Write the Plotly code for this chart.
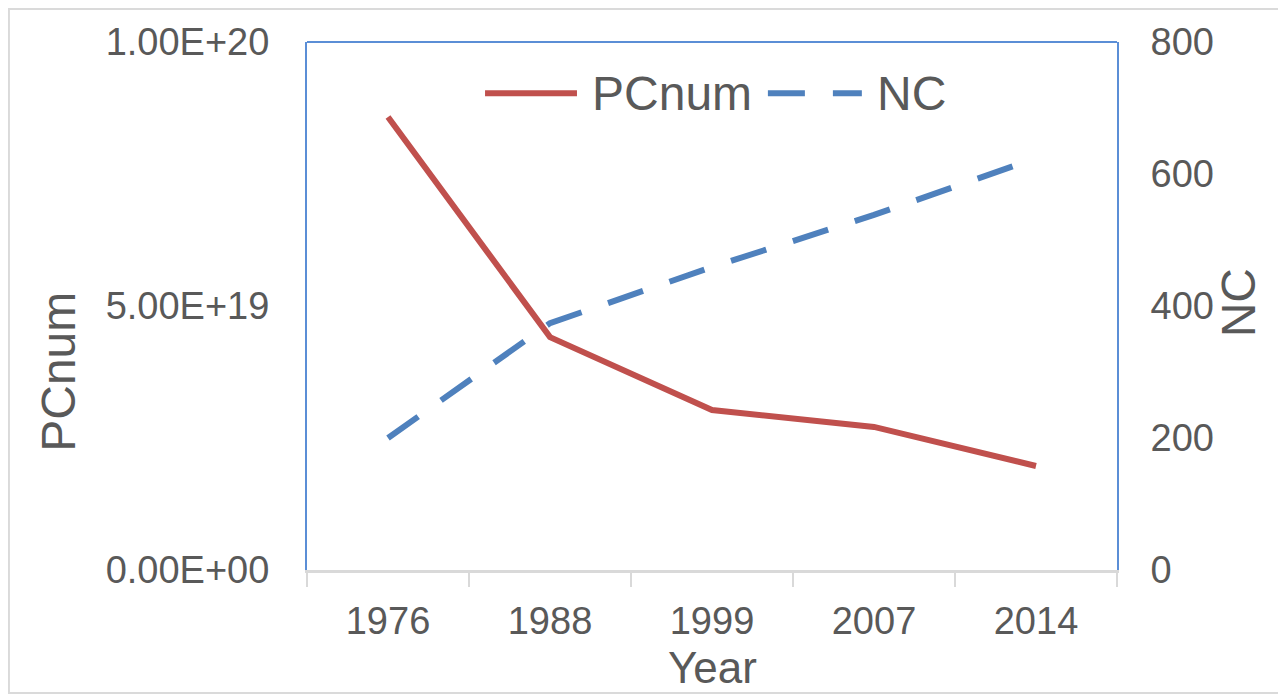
import plotly.graph_objects as go

years = ["1976", "1988", "1999", "2007", "2014"]
pcnum = [8.58e19, 4.41e19, 3.03e19, 2.71e19, 1.97e19]
nc = [200, 374, 459, 538, 624]

left_ticks = [0, 5e19, 1e20]
left_ticktext = ["0.00E+00", "5.00E+19", "1.00E+20"]
right_ticks = [0, 200, 400, 600, 800]

RED = "#C0504D"
BLUE = "#4F81BD"
FRAME = "#5B8ED6"
GRAY_TXT = "#595959"
FONT = "Liberation Sans, Arial, sans-serif"
DASH = "37px,28px"

fig = go.Figure()
fig.add_trace(go.Scatter(x=years, y=pcnum, name="PCnum", mode="lines",
                         line=dict(color=RED, width=6), yaxis="y", showlegend=False))
fig.add_trace(go.Scatter(x=years, y=nc, name="NC", mode="lines",
                         line=dict(color=BLUE, width=6, dash=DASH), yaxis="y2",
                         showlegend=False))

leg_y = 0.903
fig.update_layout(
    width=1286, height=695,
    margin=dict(l=299, r=177, t=34, b=133),
    paper_bgcolor="white", plot_bgcolor="white",
    font=dict(family=FONT, color=GRAY_TXT, size=38),
    showlegend=False,
    xaxis=dict(type="category", range=[-0.5, 4.5], tickson="boundaries", ticks="outside",
               ticklen=14, tickcolor="#D9D9D9", tickwidth=2, showline=True,
               linecolor="#D9D9D9", linewidth=3, showgrid=False, zeroline=False,
               ticklabelstandoff=15,
               tickfont=dict(size=38, color=GRAY_TXT)),
    yaxis=dict(range=[0, 1e20], tickvals=left_ticks, ticktext=left_ticktext,
               showgrid=False, zeroline=False, showline=True, linecolor=FRAME, linewidth=2,
               ticks="", ticklabelstandoff=28, tickfont=dict(size=38, color=GRAY_TXT)),
    yaxis2=dict(range=[0, 800], tickvals=right_ticks, overlaying="y", side="right",
                showgrid=False, zeroline=False, showline=True, linecolor=FRAME, linewidth=2,
                ticks="", ticklabelstandoff=24, tickfont=dict(size=38, color=GRAY_TXT)),
    shapes=[
        dict(type="line", xref="paper", yref="paper", x0=0, x1=1, y0=1, y1=1,
             line=dict(color=FRAME, width=2)),
        dict(type="rect", xref="paper", yref="paper", x0=-0.368, x1=1.2074,
             y0=-0.233, y1=1.0625, line=dict(color="#DADADA", width=2), layer="below"),
        # legend samples
        dict(type="line", xref="paper", yref="paper", x0=0.2198, x1=0.3333,
             y0=leg_y, y1=leg_y, line=dict(color=RED, width=6)),
        dict(type="line", xref="paper", yref="paper", x0=0.569, x1=0.685,
             y0=leg_y, y1=leg_y, line=dict(color=BLUE, width=6, dash=DASH)),
    ],
    annotations=[
        dict(text="PCnum", xref="paper", yref="paper", x=0.349, y=leg_y,
             showarrow=False, font=dict(size=48, color=GRAY_TXT),
             xanchor="left", yanchor="middle"),
        dict(text="NC", xref="paper", yref="paper", x=0.701, y=leg_y,
             showarrow=False, font=dict(size=48, color=GRAY_TXT),
             xanchor="left", yanchor="middle"),
        dict(text="Year", xref="paper", yref="paper", x=0.5, y=-0.184,
             showarrow=False, font=dict(size=44, color=GRAY_TXT),
             xanchor="center", yanchor="middle", borderpad=0),
        dict(text="PCnum", xref="paper", yref="paper", x=-0.307, y=0.376,
             textangle=-90, showarrow=False, font=dict(size=48, color=GRAY_TXT),
             xanchor="center", yanchor="middle"),
        dict(text="NC", xref="paper", yref="paper", x=1.15, y=0.506,
             textangle=-90, showarrow=False, font=dict(size=48, color=GRAY_TXT),
             xanchor="center", yanchor="middle"),
    ],
)

fig.write_html("out.html")
